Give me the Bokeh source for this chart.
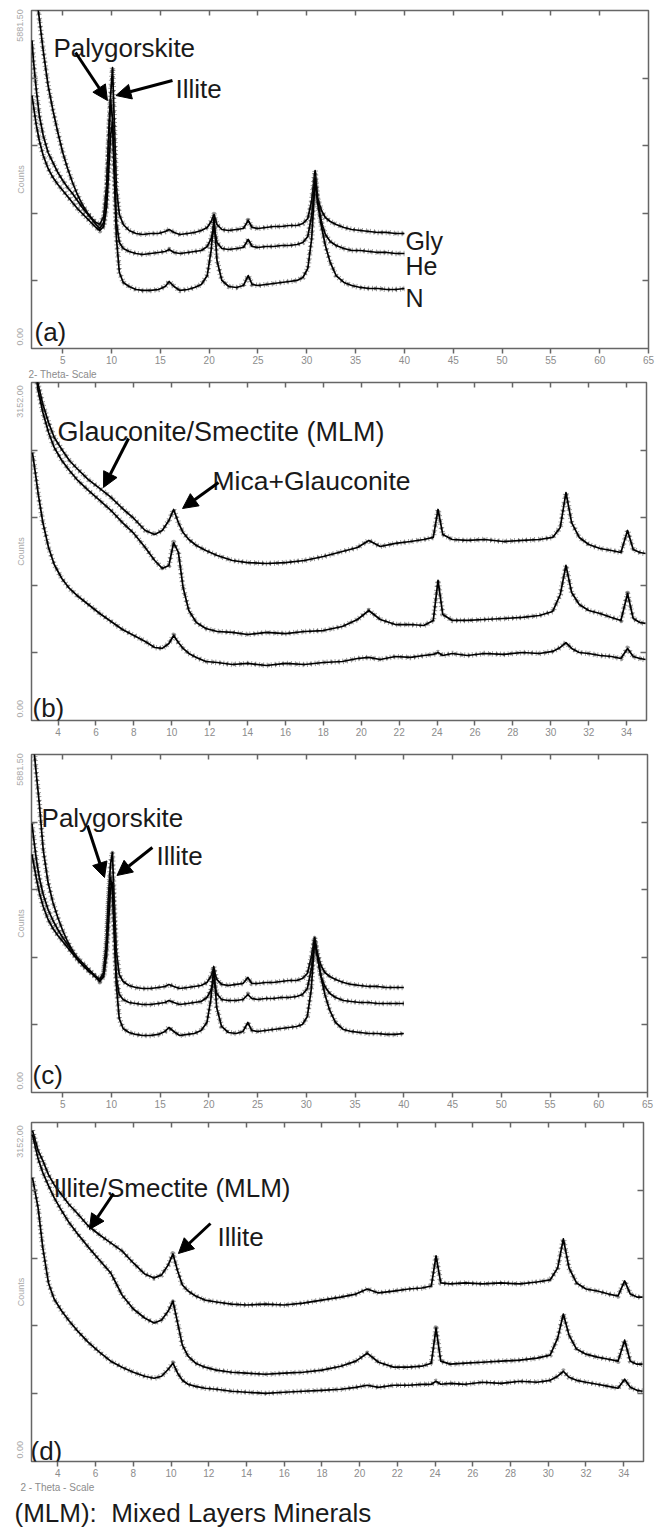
from math import pi
from bokeh.plotting import figure
from bokeh.models import (LinearAxis, FixedTicker, Label, Arrow, NormalHead, Range1d,
                          CustomJSTickFormatter, Title)
from bokeh.layouts import column
from bokeh.embed import file_html
from bokeh.resources import INLINE

# ---------------- data (2-Theta, Counts) ----------------
# panels (a) and (c): common 2-theta grid
XA = [1.85, 2.0, 2.3, 2.6, 3.0, 3.5, 4.0, 4.5, 5.0, 5.5, 6.0, 6.5, 7.0, 7.5, 8.0,
      8.4, 8.8, 9.2, 9.5, 9.75, 9.9, 10.1, 10.3, 10.5, 10.8, 11.2, 11.8,
      12.5, 13.2, 14.0, 14.8, 15.5, 15.9, 16.4, 17.0, 17.8, 18.5, 19.2, 19.8,
      20.2, 20.5, 20.8, 21.3, 22.0, 22.8, 23.5, 24.0, 24.4, 25.0,
      25.8, 26.6, 27.4, 28.2, 29.0, 29.6, 30.1, 30.5, 30.85, 31.1,
      31.5, 31.9, 32.4, 33.0, 33.8, 34.6, 35.5, 36.4, 37.3, 38.2, 39.1, 40.0]

A_GLY = [6925, 6578, 6142, 5742, 5185, 4576, 4141, 3758, 3410, 3132, 2888, 2680, 2505, 2366, 2262,
         2193, 2158, 2297, 2836, 3793, 4402, 4889, 3828, 2784, 2332, 2158, 2053,
         2001, 1984, 2001, 2001, 2036, 2071, 2019, 1984, 2001, 2019, 2053, 2106,
         2210, 2332, 2158, 2071, 2053, 2071, 2088, 2227, 2106, 2088,
         2106, 2123, 2123, 2140, 2140, 2175, 2262, 2575, 3097, 2610,
         2401, 2280, 2210, 2158, 2106, 2071, 2053, 2036, 2019, 2019, 2001, 2001]
A_HE = [5359, 5011, 4489, 4054, 3706, 3410, 3236, 3062, 2923, 2801, 2697, 2575, 2453, 2349, 2245,
        2158, 2088, 2193, 2714, 3880, 4315, 4002, 3097, 2193, 1845, 1740, 1688,
        1653, 1636, 1653, 1671, 1688, 1723, 1671, 1653, 1671, 1688, 1705, 1775,
        1914, 2088, 1845, 1740, 1723, 1740, 1758, 1897, 1775, 1758,
        1775, 1775, 1792, 1792, 1810, 1845, 1949, 2314, 2923, 2610,
        2193, 1984, 1862, 1792, 1740, 1705, 1705, 1688, 1671, 1671, 1653, 1653]
A_N = [4402, 4228, 3880, 3619, 3358, 3132, 2975, 2853, 2749, 2645, 2540, 2436, 2349, 2262, 2175,
       2106, 2053, 2123, 2471, 3236, 3706, 3932, 2923, 1914, 1323, 1149, 1079,
       1027, 1010, 1010, 1027, 1079, 1166, 1079, 1010, 1027, 1062, 1114, 1270,
       1705, 2280, 1531, 1184, 1079, 1062, 1096, 1270, 1114, 1096,
       1114, 1131, 1149, 1166, 1184, 1236, 1392, 1914, 2958, 2540,
       2123, 1792, 1497, 1270, 1149, 1096, 1062, 1044, 1044, 1027, 1027, 1044]

C_1 = [6404, 6056, 5533, 5029, 4228, 3654, 3306, 3045, 2819, 2628, 2471, 2332, 2227, 2140, 2071,
       2019, 1967, 2088, 2645, 3532, 3967, 4176, 3271, 2471, 2053, 1932, 1862,
       1827, 1810, 1810, 1827, 1845, 1880, 1845, 1810, 1827, 1845, 1862, 1914,
       2019, 2158, 1967, 1880, 1862, 1880, 1897, 2001, 1897, 1897,
       1914, 1914, 1932, 1949, 1949, 1984, 2071, 2349, 2697, 2436,
       2210, 2088, 2019, 1967, 1914, 1880, 1862, 1845, 1845, 1827, 1827, 1827]
C_2 = [4681, 4455, 4054, 3741, 3445, 3184, 2993, 2836, 2697, 2575, 2454, 2349, 2262, 2175, 2088,
       2019, 1949, 2053, 2575, 3480, 3741, 3532, 2749, 2019, 1705, 1618, 1566,
       1549, 1531, 1531, 1549, 1566, 1601, 1566, 1531, 1549, 1566, 1584, 1653,
       1775, 1949, 1723, 1618, 1601, 1601, 1618, 1705, 1636, 1618,
       1636, 1636, 1653, 1653, 1671, 1705, 1810, 2140, 2645, 2401,
       2019, 1845, 1723, 1653, 1601, 1584, 1566, 1566, 1549, 1549, 1549, 1549]
C_3 = [4141, 4002, 3724, 3480, 3236, 3010, 2854, 2732, 2628, 2523, 2419, 2314, 2227, 2140, 2071,
       2001, 1932, 2019, 2401, 3097, 3532, 3654, 2836, 1880, 1288, 1114, 1044,
       1010, 992, 992, 1010, 1062, 1131, 1062, 992, 1010, 1027, 1079, 1218,
       1618, 2193, 1479, 1149, 1044, 1027, 1062, 1218, 1079, 1062,
       1079, 1096, 1114, 1131, 1149, 1184, 1323, 1792, 2663, 2401,
       2019, 1705, 1427, 1218, 1096, 1062, 1044, 1027, 1027, 1010, 1010, 1027]

# panels (b) and (d): common 2-theta grid
XB = [2.65, 2.8, 2.95, 3.2, 3.5, 3.8, 4.2, 4.6, 5.0, 5.6,
      6.2, 6.8, 7.4, 8.0, 8.6, 9.1, 9.5, 9.85, 10.1, 10.35,
      10.6, 10.9, 11.3, 11.8, 12.4, 13.2, 14.0, 15.0, 16.0, 17.0,
      18.0, 19.0, 19.8, 20.4, 21.0, 21.8, 22.6, 23.3, 23.8, 24.05,
      24.3, 24.8, 25.6, 26.5, 27.5, 28.5, 29.4, 30.1, 30.5, 30.8,
      31.1, 31.5, 32.0, 32.6, 33.2, 33.7, 34.05, 34.35, 34.7, 35.0]

B_TOP = [3525, 3339, 3133, 2947, 2779, 2639, 2527, 2425, 2350, 2247,
         2164, 2080, 1977, 1884, 1772, 1735, 1772, 1865, 1968, 1846,
         1753, 1688, 1632, 1585, 1539, 1492, 1473, 1464, 1473, 1492,
         1529, 1576, 1613, 1679, 1623, 1651, 1669, 1688, 1707, 1968,
         1735, 1688, 1679, 1688, 1669, 1679, 1688, 1707, 1800, 2126,
         1846, 1707, 1641, 1604, 1585, 1567, 1772, 1595, 1567, 1557]
B_MID = [3478, 3292, 3077, 2872, 2686, 2546, 2425, 2331, 2247, 2145,
         2052, 1958, 1846, 1744, 1613, 1492, 1418, 1446, 1660, 1567,
         1240, 1026, 914, 858, 830, 821, 802, 821, 811, 830,
         839, 877, 942, 1026, 942, 895, 895, 886, 933, 1306,
         989, 933, 933, 942, 951, 961, 979, 1017, 1175, 1446,
         1194, 1082, 1026, 998, 961, 933, 1184, 951, 914, 905]
B_BOT = [2499, 2313, 2117, 1846, 1613, 1455, 1324, 1231, 1166, 1082,
         998, 923, 849, 793, 737, 681, 672, 718, 793, 727,
         672, 625, 588, 550, 541, 522, 532, 513, 532, 522,
         541, 550, 578, 588, 569, 597, 588, 606, 616, 634,
         606, 625, 606, 625, 616, 634, 625, 644, 681, 727,
         672, 634, 625, 606, 597, 578, 672, 597, 578, 569]

D_TOP = [3077, 2984, 2891, 2798, 2667, 2574, 2481, 2387, 2313, 2192,
         2108, 2033, 1958, 1846, 1744, 1707, 1735, 1828, 1930, 1772,
         1641, 1585, 1539, 1501, 1483, 1464, 1455, 1464, 1455, 1473,
         1501, 1529, 1557, 1604, 1567, 1585, 1604, 1613, 1632, 1912,
         1660, 1651, 1660, 1651, 1660, 1651, 1669, 1688, 1800, 2070,
         1800, 1660, 1604, 1585, 1557, 1539, 1679, 1557, 1529, 1529]
D_MID = [3040, 2928, 2816, 2686, 2565, 2453, 2331, 2219, 2126, 1996,
         1874, 1753, 1548, 1418, 1334, 1287, 1315, 1399, 1492, 1287,
         1082, 979, 914, 877, 849, 830, 821, 811, 821, 830,
         849, 886, 933, 1007, 923, 877, 877, 886, 914, 1240,
         933, 905, 914, 923, 933, 942, 961, 989, 1147, 1371,
         1175, 1045, 998, 970, 951, 933, 1128, 933, 905, 905]
D_BOT = [2639, 2499, 2359, 1986, 1660, 1511, 1399, 1306, 1222, 1110,
         1017, 933, 877, 830, 793, 774, 793, 858, 914, 821,
         755, 718, 699, 681, 672, 653, 644, 634, 644, 653,
         662, 672, 690, 709, 690, 709, 709, 718, 718, 746,
         718, 727, 718, 737, 727, 746, 737, 755, 793, 839,
         783, 755, 737, 718, 699, 681, 765, 690, 662, 653]

YMAX_AC = 5881.5
YMAX_BD = 3152.0
YLAB_AC = "5881.50"
YLAB_BD = "3152.00"
TICKS_AC = [5, 10, 15, 20, 25, 30, 35, 40, 45, 50, 55, 60, 65]
TICKS_BD = [4, 6, 8, 10, 12, 14, 16, 18, 20, 22, 24, 26, 28, 30, 32, 34]

# ---------------- styling helpers ----------------
FONT = "Liberation Sans"
GRAY = "#8c8c8c"
LGRAY = "#a8a8a8"
FRAME = "#666666"
INK = "#1a1a1a"
LEFT = 31
PAGE_W = 656


def blank():
    return CustomJSTickFormatter(code="return '';")


def tick_axis(ticks, tin, tout):
    return LinearAxis(ticker=FixedTicker(ticks=ticks), formatter=blank(),
                      major_tick_in=tin, major_tick_out=tout,
                      minor_tick_line_color=None, axis_line_color=None,
                      major_tick_line_color=FRAME, major_tick_line_width=1.5,
                      major_label_text_font_size="0px", major_label_standoff=0)


def panel(xr, ymax, ytop_text, top_frac, xticks, top_ticks, fw, fh, bt, bb):
    p = figure(output_backend="svg", toolbar_location=None, title=None,
               frame_width=fw, frame_height=fh,
               x_range=Range1d(*xr), y_range=Range1d(0, ymax),
               min_border_left=LEFT, min_border_right=PAGE_W - LEFT - fw,
               min_border_top=bt, min_border_bottom=bb,
               background_fill_color="white", border_fill_color="white")
    p.outline_line_color = FRAME
    p.outline_line_width = 1.5
    p.grid.visible = False
    xa = p.xaxis[0]
    xa.ticker = FixedTicker(ticks=xticks)
    xa.major_tick_in = 0
    xa.major_tick_out = 5
    xa.major_tick_line_color = FRAME
    xa.major_tick_line_width = 1.5
    xa.minor_tick_line_color = None
    xa.axis_line_color = None
    xa.major_label_text_font = FONT
    xa.major_label_text_font_size = "10px"
    xa.major_label_text_color = GRAY
    xa.major_label_standoff = 2
    # inward tick marks on the left (nearest axis), right and top
    yt = [ymax * f for f in (0.2, 0.4, 0.6, 0.8)]
    ya = p.yaxis[0]
    ya.ticker = FixedTicker(ticks=yt)
    ya.formatter = blank()
    ya.major_tick_in = 6
    ya.major_tick_out = 0
    ya.major_tick_line_color = FRAME
    ya.major_tick_line_width = 1.5
    ya.minor_tick_line_color = None
    ya.axis_line_color = None
    ya.major_label_text_font_size = "0px"
    ya.major_label_standoff = 0
    p.add_layout(tick_axis(yt, 6, 0), "right")
    p.add_layout(tick_axis(top_ticks, 5, 0), "above")
    # label-only axis on the left: range end values and "Counts"
    lab = LinearAxis(ticker=FixedTicker(ticks=[ymax * 0.035, ymax * top_frac]),
                     formatter=CustomJSTickFormatter(
                         code="return tick < %f ? '0.00' : '%s';" % (ymax / 2, ytop_text)),
                     major_tick_line_color=None, minor_tick_line_color=None,
                     axis_line_color=None, major_label_orientation="vertical",
                     major_label_text_font=FONT, major_label_text_font_size="9px",
                     major_label_text_color=LGRAY, major_label_standoff=2,
                     axis_label="Counts", axis_label_text_font=FONT,
                     axis_label_text_font_size="9px", axis_label_text_color=LGRAY,
                     axis_label_text_font_style="normal", axis_label_standoff=-11)
    p.add_layout(lab, "left")
    return p


def curve(p, x, y):
    # speckled halo imitating the counting noise of the scanned traces
    p.line(x, y, line_color="#222222", line_width=5.5, line_alpha=0.45,
           line_dash="1 3", line_join="round")
    p.line(x, y, line_color="#222222", line_width=3.5, line_alpha=0.5,
           line_dash="2 5", line_dash_offset=1, line_join="round")
    p.line(x, y, line_color="black", line_width=1.7, line_join="round")


def note(p, x, y, s, size="26px", x_offset=0):
    p.add_layout(Label(x=x, y=y, x_offset=x_offset, text=s,
                       text_font=FONT, text_font_size=size, text_color=INK,
                       text_baseline="alphabetic", text_align="left"))


def foot(p, s, size, offset, standoff, color):
    p.add_layout(Title(text=s, align="left", offset=offset, standoff=standoff,
                       text_font=FONT, text_font_size=size, text_font_style="normal",
                       text_color=color), "below")


def arrow(p, xs, ys, xe, ye):
    p.add_layout(Arrow(end=NormalHead(size=15, fill_color="black", line_color="black",
                                      line_width=1),
                       x_start=xs, y_start=ys, x_end=xe, y_end=ye,
                       line_width=3, line_color="black"))


# ---------------- panel (a) ----------------
pa = panel((1.8, 65.0), YMAX_AC, YLAB_AC, 0.956, TICKS_AC, TICKS_AC[:-1], 617, 338, 10, 33)
for ys in (A_GLY, A_HE, A_N):
    curve(pa, XA, ys)
note(pa, 4.05, 5237, "Palygorskite")
note(pa, 16.55, 4524, "Illite")
arrow(pa, 6.31, 5150, 9.58, 4315)
arrow(pa, 16.24, 4663, 10.45, 4402)
note(pa, 40.1, 1879, "Gly", size="25px")
note(pa, 40.1, 1427, "He", size="25px")
note(pa, 40.1, 887, "N", size="25px")
note(pa, 1.8, 287, "(a)", x_offset=3)
foot(pa, "2- Theta- Scale", "10px", -3, 0, GRAY)

# ---------------- panel (b) ----------------
pb = panel((2.6, 35.05), YMAX_BD, YLAB_BD, 0.944, TICKS_BD, TICKS_BD, 615, 338, 1, 30)
for ys in (B_TOP, B_MID, B_BOT):
    curve(pb, XB, ys)
note(pb, 3.97, 2686, "Glauconite/Smectite (MLM)", size="27px")
note(pb, 12.15, 2229, "Mica+Glauconite", size="26.5px")
arrow(pb, 7.72, 2630, 6.4, 2173)
arrow(pb, 12.47, 2219, 10.57, 1977)
note(pb, 2.6, 112, "(b)", x_offset=1)

# ---------------- panel (c) ----------------
pc = panel((1.8, 65.0), YMAX_AC, YLAB_AC, 0.956, TICKS_AC, TICKS_AC[:-1], 616, 338, 4, 26)
for ys in (C_1, C_2, C_3):
    curve(pc, XA, ys)
note(pc, 2.83, 4785, "Palygorskite")
note(pc, 14.62, 4124, "Illite")
arrow(pc, 7.54, 4646, 9.29, 3741)
arrow(pc, 14.2, 4263, 10.57, 3776)
note(pc, 1.8, 296, "(c)", x_offset=1)

# ---------------- panel (d) ----------------
pd_ = panel((2.6, 35.05), YMAX_BD, YLAB_BD, 0.944, TICKS_BD, TICKS_BD, 612, 339, 4, 77)
for ys in (D_TOP, D_MID, D_BOT):
    curve(pd_, XB, ys)
note(pd_, 3.77, 2539, "Illite/Smectite (MLM)")
note(pd_, 12.46, 2083, "Illite")
arrow(pd_, 6.95, 2492, 5.67, 2158)
arrow(pd_, 12.09, 2213, 10.39, 1934)
note(pd_, 2.6, 100, "(d)", x_offset=-1)
foot(pd_, "2 - Theta - Scale", "10px", -11, 0, GRAY)
foot(pd_, "(MLM):\u00a0 Mixed Layers Minerals", "26px", -17, 7, INK)

layout = column(pa, pb, pc, pd_, spacing=0)
open("out.html", "w").write(file_html(layout, INLINE))
